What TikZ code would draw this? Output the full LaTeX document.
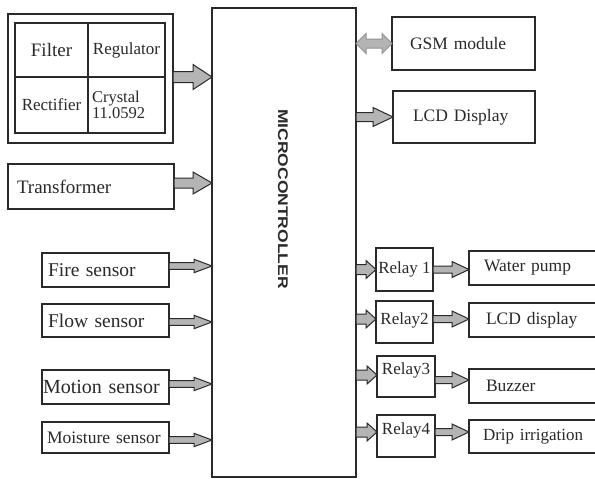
\documentclass[tikz,border=0pt]{standalone}
\usepackage{fontspec}
\setmainfont{Liberation Serif}
\setsansfont{Liberation Sans}
\usetikzlibrary{calc}
\definecolor{ink}{HTML}{2A2A2A}
\definecolor{arrowgray}{HTML}{B4B4B4}
% #1 extra style, #2 x-start point, #3 x-end point, #4 y point, #5 body half, #6 head half, #7 head length
\newcommand{\blockarrow}[7][]{%
  \path[arrowfill,#1] let \p1=(#2), \p2=(#3), \p3=(#4) in
    (\x1,{\y3+#5}) -- ({\x2-#7},{\y3+#5}) -- ({\x2-#7},{\y3+#6}) -- (\x2,\y3)
    -- ({\x2-#7},{\y3-#6}) -- ({\x2-#7},{\y3-#5}) -- (\x1,{\y3-#5}) -- cycle;}
\newcommand{\dblarrow}[7][]{%
  \path[arrowfill,#1] let \p1=(#2), \p2=(#3), \p3=(#4) in
    (\x1,\y3) -- ({\x1+#7},{\y3+#6}) -- ({\x1+#7},{\y3+#5}) -- ({\x2-#7},{\y3+#5})
    -- ({\x2-#7},{\y3+#6}) -- (\x2,\y3) -- ({\x2-#7},{\y3-#6}) -- ({\x2-#7},{\y3-#5})
    -- ({\x1+#7},{\y3-#5}) -- ({\x1+#7},{\y3-#6}) -- cycle;}
\begin{document}
\begin{tikzpicture}[x=1pt,y=-1pt,
  box/.style={draw=ink, line width=1.3pt, inner sep=0pt, outer sep=0pt, text=ink,
    font=\fontsize{17.5}{20}\selectfont},
  arrowfill/.style={draw=ink, fill=arrowgray, line width=1pt, line join=miter}]
\useasboundingbox (0,0) rectangle (595,479);
\fill[white] (0,0) rectangle (595,479);

% power supply block
\node[box, minimum width=165pt, minimum height=129pt] (pwr) at (90.5,78.5) {};
\node[box, minimum width=73pt, minimum height=54pt, font=\fontsize{19}{20}\selectfont] (filter) at (51.5,50) {Filter};
\node[box, minimum width=77pt, minimum height=54pt, font=\fontsize{17}{20}\selectfont] (reg) at (126.5,50) {Regulator};
\node[box, minimum width=73pt, minimum height=56pt, font=\fontsize{17}{20}\selectfont] (rect) at (51.5,105) {Rectifier};
\node[box, minimum width=77pt, minimum height=56pt, text width=69pt, inner xsep=4pt, align=left,
  font=\fontsize{16.5}{16.5}\selectfont] (cry) at (126.5,105) {Crystal\\11.0592};

% microcontroller
\node[box, minimum width=144pt, minimum height=469pt] (mc) at (284,242.5) {};
\node[rotate=-90, text=ink, inner sep=0pt, font=\sffamily\bfseries\fontsize{14}{14}\selectfont] (mctext) at (283,199)
  {\scalebox{1.25}[1]{MICROCONTROLLER}};

% left inputs
\node[box, anchor=west, minimum width=166pt, minimum height=45pt, text width=148pt, inner xsep=9pt, align=left,
  font=\fontsize{19}{20}\selectfont] (trans) at (8,186.5) {Transformer};
\node[box, anchor=west, minimum width=127pt, minimum height=34pt, text width=115pt, inner xsep=6pt, align=left,
  font=\fontsize{19.5}{20}\selectfont] (fire) at (42,270) {Fire sensor};
\node[box, anchor=west, minimum width=127pt, minimum height=33pt, text width=115pt, inner xsep=6pt, align=left,
  font=\fontsize{19.5}{20}\selectfont] (flow) at (42,320.5) {Flow sensor};
\node[box, anchor=west, minimum width=127pt, minimum height=34pt, text width=125pt, inner xsep=1pt, align=left,
  font=\fontsize{20}{20}\selectfont] (motion) at (42,387) {Motion sensor};
\node[box, anchor=west, minimum width=127pt, minimum height=31pt, text width=117pt, inner xsep=5pt, align=left,
  font=\fontsize{17.5}{20}\selectfont] (moist) at (42,437.5) {Moisture sensor};

% right outputs
\node[box, anchor=west, minimum width=143pt, minimum height=53pt, text width=107pt, inner xsep=18pt, align=left] (gsm) at (392,43.5) {GSM module};
\node[box, anchor=west, minimum width=142pt, minimum height=52pt, text width=102pt, inner xsep=20pt, align=left] (lcd) at (393,117) {LCD Display};

% relays
\node[box, minimum width=57pt, minimum height=43pt, font=\fontsize{17}{20}\selectfont] (r1) at (404.5,269.5) {Relay 1};
\node[box, minimum width=57pt, minimum height=42pt, font=\fontsize{17}{20}\selectfont] (r2) at (404.5,322) {\raisebox{2pt}[\height][\depth]{Relay2}};
\node[box, minimum width=58pt, minimum height=41pt, font=\fontsize{17}{20}\selectfont] (r3) at (406,376.5) {\raisebox{6pt}[\height][\depth]{Relay3}};
\node[box, minimum width=58pt, minimum height=42pt, font=\fontsize{17}{20}\selectfont] (r4) at (406,436) {\raisebox{6pt}[\height][\depth]{Relay4}};

% relay loads
\node[box, anchor=west, minimum width=135pt, minimum height=34pt, text width=110pt, inner xsep=15pt, align=left] (wp) at (469,268) {Water pump};
\node[box, anchor=west, minimum width=135pt, minimum height=34pt, text width=110pt, inner xsep=17pt, align=left] (lcd2) at (469,320) {LCD display};
\node[box, anchor=west, minimum width=135pt, minimum height=34pt, text width=110pt, inner xsep=17pt, align=left] (buz) at (469,386) {Buzzer};
\node[box, anchor=west, minimum width=135pt, minimum height=33pt, text width=110pt, inner xsep=14pt, align=left,
  font=\fontsize{17}{20}\selectfont] (drip) at (469,436.5) {Drip irrigation};

% arrows into microcontroller
\blockarrow{pwr.east}{mc.west}{[yshift=1.5pt]pwr.east}{5.5pt}{12.5pt}{19pt}
\blockarrow{trans.east}{mc.west}{[yshift=3.5pt]trans.east}{5pt}{11pt}{19pt}
\blockarrow{fire.east}{mc.west}{[yshift=4pt]fire.east}{3.3pt}{6.7pt}{18pt}
\blockarrow{flow.east}{mc.west}{[yshift=-1.5pt]flow.east}{3.3pt}{6.7pt}{18pt}
\blockarrow{motion.east}{mc.west}{[yshift=3pt]motion.east}{3.3pt}{6.7pt}{18pt}
\blockarrow{moist.east}{mc.west}{[yshift=-2.5pt]moist.east}{3.3pt}{6.7pt}{18pt}

% arrows out of microcontroller
\dblarrow[draw=gray!85]{mc.east}{gsm.west}{gsm.west}{4.5pt}{10pt}{10pt}
\blockarrow{mc.east}{lcd.west}{lcd.west}{4.5pt}{9.5pt}{20pt}
\blockarrow{mc.east}{r1.west}{r1.west}{5pt}{9pt}{10pt}
\blockarrow{mc.east}{r2.west}{[yshift=3pt]r2.west}{5pt}{9pt}{10pt}
\blockarrow{mc.east}{r3.west}{[yshift=1.5pt]r3.west}{5pt}{9pt}{10pt}
\blockarrow{mc.east}{r4.west}{[yshift=4pt]r4.west}{5pt}{9pt}{10pt}

% relays to loads
\blockarrow{r1.east}{wp.west}{r1.east}{3.5pt}{8pt}{17pt}
\blockarrow{r2.east}{lcd2.west}{[yshift=3pt]r2.east}{3.5pt}{8pt}{17pt}
\blockarrow{r3.east}{buz.west}{[yshift=-3.5pt]r3.east}{3.5pt}{8pt}{17pt}
\blockarrow{r4.east}{drip.west}{[yshift=4pt]r4.east}{3.5pt}{8pt}{17pt}
\end{tikzpicture}
\end{document}
